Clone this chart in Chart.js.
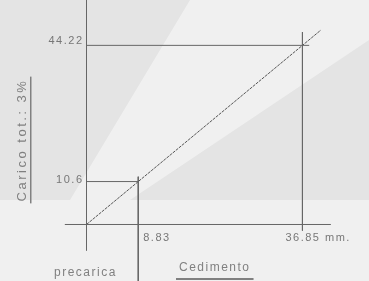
<!DOCTYPE html>
<html>
<head>
<meta charset="utf-8">
<script src="https://cdn.jsdelivr.net/npm/chart.js@4/dist/chart.umd.min.js"></script>
<style>
  html, body { margin: 0; padding: 0; background: #ebebeb; overflow: hidden; }
  #chart { display: block; }
</style>
</head>
<body>
<canvas id="chart" width="369" height="281"></canvas>
<script>
// settlement (mm) vs load
const precaricaX = 8.83;
const precaricaY = 10.6;
const caricoX = 36.85;
const caricoY = 44.22;
const lineEnd = [40, 48];
const xTickLabels = ['8.83', '36.85 mm.'];
const yTickLabels = ['10.6', '44.22'];
const yTitle = 'Carico tot.: 3%';
const xTitle = 'Cedimento';
const xSubTitle = 'precarica';

const lineColor = '#666';
const textColor = '#777';

const backdrop = {
  id: 'backdrop',
  beforeDraw(chart) {
    const { ctx, width, height } = chart;
    ctx.save();
    ctx.fillStyle = '#e4e4e4';
    ctx.fillRect(0, 0, width, height);
    // lighter diagonal sheen like the scan
    ctx.fillStyle = 'rgba(255,255,255,0.45)';
    ctx.beginPath();
    ctx.moveTo(70, 200);
    ctx.lineTo(190, 0);
    ctx.lineTo(369, 0);
    ctx.lineTo(369, 40);
    ctx.lineTo(130, 200);
    ctx.closePath();
    ctx.fill();
    ctx.fillStyle = 'rgba(255,255,255,0.45)';
    ctx.fillRect(0, 200, width, height - 200);
    ctx.restore();
  }
};

const labels = {
  id: 'labels',
  afterDatasetsDraw(chart) {
    const { ctx } = chart;
    const x = chart.scales.x, y = chart.scales.y;
    ctx.save();
    ctx.fillStyle = textColor;
    ctx.font = '11px "Liberation Sans", sans-serif';
    ctx.letterSpacing = '1.5px';
    ctx.textBaseline = 'middle';
    ctx.textAlign = 'right';
    ctx.fillText(yTickLabels[0], x.getPixelForValue(0) - 3, y.getPixelForValue(precaricaY) - 2);
    ctx.fillText(yTickLabels[1], x.getPixelForValue(0) - 3, y.getPixelForValue(caricoY) - 4);
    ctx.textAlign = 'left';
    ctx.fillText(xTickLabels[0], x.getPixelForValue(precaricaX) + 5, y.getPixelForValue(0) + 13);
    ctx.fillText(xTickLabels[1], x.getPixelForValue(caricoX) - 17, y.getPixelForValue(0) + 13);

    // x titles
    ctx.fillStyle = '#808080';
    ctx.font = '12px "Liberation Sans", sans-serif';
    ctx.letterSpacing = '1.5px';
    ctx.fillText(xTitle, 179, 268);
    let w = ctx.measureText(xTitle).width;
    ctx.fillRect(176, 278, w + 6, 2);
    ctx.fillText(xSubTitle, 54, 273);

    // rotated y title
    ctx.translate(22, 140);
    ctx.rotate(-Math.PI / 2);
    ctx.textAlign = 'center';
    ctx.font = '13px "Liberation Sans", sans-serif';
    ctx.letterSpacing = '2.5px';
    ctx.fillText(yTitle, 0, 0);
    w = ctx.measureText(yTitle).width;
    ctx.fillRect(-w / 2 - 2, 8, w + 4, 1.5);
    ctx.restore();
  }
};

const seg = (data, extra) => Object.assign({
  type: 'line', data, borderColor: lineColor, borderWidth: 1,
  pointRadius: 0, fill: false, tension: 0
}, extra || {});

new Chart(document.getElementById('chart'), {
  type: 'scatter',
  data: {
    datasets: [
      // axes
      seg([{ x: -3.7, y: 0 }, { x: 41.7, y: 0 }]),
      seg([{ x: 0, y: -6.5 }, { x: 0, y: 56 }]),
      // reference lines
      seg([{ x: 0, y: caricoY }, { x: 38, y: caricoY }]),
      seg([{ x: caricoX, y: 47.5 }, { x: caricoX, y: -1.5 }]),
      seg([{ x: 0, y: precaricaY }, { x: precaricaX, y: precaricaY }]),
      seg([{ x: precaricaX, y: 11.8 }, { x: precaricaX, y: -15 }]),
      // load–settlement line
      seg([{ x: 0, y: 0 }, { x: lineEnd[0], y: lineEnd[1] }], { borderColor: '#555', borderDash: [3, 1] })
    ]
  },
  options: {
    responsive: false,
    animation: false,
    layout: { padding: 0 },
    plugins: { legend: { display: false }, tooltip: { enabled: false } },
    scales: {
      x: { type: 'linear', min: -14.762, max: 48.208, display: false },
      y: { type: 'linear', min: -13.95, max: 55.42, display: false }
    }
  },
  plugins: [backdrop, labels]
});
</script>
</body>
</html>
